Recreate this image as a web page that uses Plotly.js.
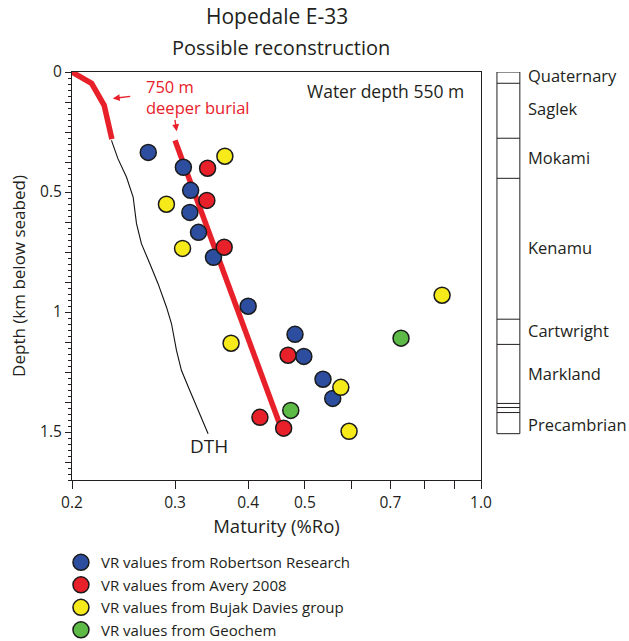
<!DOCTYPE html>
<html><head><meta charset="utf-8">
<script src="https://cdn.plot.ly/plotly-3.0.1.min.js"></script>
<style>html,body{margin:0;padding:0;background:#fff}#chart{width:629px;height:641px}</style>
</head><body><div id="chart"></div>
<script>
// Vitrinite reflectance data (maturity %Ro, depth km below seabed)
const robertsonRo    = [0.270, 0.310, 0.319, 0.318, 0.329, 0.349, 0.400, 0.481, 0.498, 0.537, 0.558];
const robertsonDepth = [0.335, 0.397, 0.493, 0.585, 0.668, 0.772, 0.976, 1.093, 1.185, 1.280, 1.360];
const averyRo    = [0.341, 0.340, 0.364, 0.468, 0.419, 0.460];
const averyDepth = [0.401, 0.535, 0.730, 1.180, 1.439, 1.484];
const bujakRo    = [0.365, 0.290, 0.309, 0.374, 0.576, 0.595, 0.858];
const bujakDepth = [0.351, 0.551, 0.735, 1.130, 1.314, 1.497, 0.930];
const geochemRo    = [0.473, 0.730];
const geochemDepth = [1.410, 1.109];
// Burial curves
const upperRo    = [0.200, 0.216, 0.227, 0.234];
const upperDepth = [0.000, 0.047, 0.139, 0.280];
const deeperRo    = [0.300, 0.460];
const deeperDepth = [0.285, 1.512];
const dthRo    = [0.2336, 0.2396, 0.2478, 0.2544, 0.2578, 0.2628, 0.2716, 0.2806, 0.2900, 0.2958, 0.3017, 0.3076, 0.3178, 0.3307, 0.3417];
const dthDepth = [0.285, 0.361, 0.4375, 0.521, 0.632, 0.715, 0.798, 0.882, 0.979, 1.048, 1.160, 1.243, 1.326, 1.423, 1.507];
// Axis ticks
const xTickVals = [0.2, 0.3, 0.4, 0.5, 0.6, 0.7, 0.8, 0.9, 1.0];
const xTickText = ['0.2', '0.3', '0.4', '0.5', '', '0.7', '', '', '1.0'];
// Stratigraphic column
const formationNames = ['Quaternary', 'Saglek', 'Mokami', 'Kenamu', 'Cartwright', 'Markland', 'Precambrian'];
const formationLabelDepth = [0.016, 0.152, 0.356, 0.73, 1.077, 1.255, 1.468];
const formationBoundaries = [0.047, 0.276, 0.443, 1.03, 1.135, 1.381, 1.398, 1.419];
const columnTop = 0.0, columnBase = 1.507;

const TXT = '#231f20';
const FONT = '"Open Sans", Lato, sans-serif';
const RED = '#e8202a';

function pts(name, x, y, color) {
  return {type: 'scatter', mode: 'markers', name: name, x: x, y: y,
    marker: {size: 16, color: color, line: {color: '#1a1a1a', width: 1.5}}, cliponaxis: false};
}

const yTickVals = [], yTickText = [];
for (let i = 0; i <= 13; i++) {
  const v = i * 0.125;
  yTickVals.push(v);
  yTickText.push(Math.abs(v % 0.5) < 1e-9 ? String(v) : '');
}

const traces = [
  {type: 'scatter', mode: 'lines', x: dthRo, y: dthDepth, line: {color: '#111', width: 1.1}, showlegend: false, hoverinfo: 'skip'},
  {type: 'scatter', mode: 'lines', x: upperRo, y: upperDepth, line: {color: RED, width: 5.5}, showlegend: false, hoverinfo: 'skip'},
  {type: 'scatter', mode: 'lines', x: deeperRo, y: deeperDepth, line: {color: RED, width: 5.5}, showlegend: false, hoverinfo: 'skip'},
  pts('VR values from Robertson Research', robertsonRo, robertsonDepth, '#2d4e9f'),
  pts('VR values from Avery 2008', averyRo, averyDepth, RED),
  pts('VR values from Bujak Davies group', bujakRo, bujakDepth, '#f7ea1a'),
  pts('VR values from Geochem', geochemRo, geochemDepth, '#5dba47')
];

const x0 = 1.039, x1 = 1.095;
const shapes = [{type: 'rect', xref: 'paper', yref: 'y', x0: x0, x1: x1, y0: columnTop, y1: columnBase,
  line: {color: TXT, width: 1}, fillcolor: 'rgba(0,0,0,0)'}];
formationBoundaries.forEach(d => shapes.push({type: 'line', xref: 'paper', yref: 'y', x0: x0, x1: x1, y0: d, y1: d,
  line: {color: TXT, width: 1}}));

const annotations = [
  {xref: 'paper', yref: 'paper', x: 0.5, y: 1.137, text: 'Hopedale E-33', showarrow: false,
    font: {family: FONT, size: 21, color: TXT}, xanchor: 'center', yanchor: 'middle'},
  {xref: 'paper', yref: 'paper', x: 0.51, y: 1.059, text: 'Possible reconstruction', showarrow: false,
    font: {family: FONT, size: 20, color: TXT}, xanchor: 'center', yanchor: 'middle'},
  {xref: 'x', yref: 'y', x: Math.log10(0.942), y: 0.081, text: 'Water depth 550 m', showarrow: false,
    font: {family: FONT, size: 17.5, color: TXT}, xanchor: 'right', yanchor: 'middle'},
  {xref: 'x', yref: 'y', x: Math.log10(0.266), y: 0.105, text: '750 m<br>deeper burial', showarrow: false, align: 'left',
    font: {family: FONT, size: 16.5, color: RED}, xanchor: 'left', yanchor: 'middle'},
  {xref: 'x', yref: 'y', x: Math.log10(0.2348), y: 0.11, ax: Math.log10(0.253), ay: 0.101, axref: 'x', ayref: 'y',
    text: '', showarrow: true, arrowhead: 2, arrowsize: 1, arrowwidth: 1.4, arrowcolor: RED},
  {xref: 'x', yref: 'y', x: Math.log10(0.302), y: 0.247, ax: Math.log10(0.2996), ay: 0.193, axref: 'x', ayref: 'y',
    text: '', showarrow: true, arrowhead: 2, arrowsize: 1, arrowwidth: 1.4, arrowcolor: RED},
  {xref: 'x', yref: 'y', x: Math.log10(0.3156), y: 1.56, text: 'DTH', showarrow: false,
    font: {family: FONT, size: 19, color: TXT}, xanchor: 'left', yanchor: 'middle'}
];
formationNames.forEach((n, i) => annotations.push({xref: 'paper', yref: 'y', x: 1.11, y: formationLabelDepth[i],
  text: n, showarrow: false, xanchor: 'left', yanchor: 'middle', font: {family: FONT, size: 16.5, color: TXT}}));

const layout = {
  width: 629, height: 641,
  margin: {l: 72, r: 148, t: 72, b: 161, autoexpand: false},
  paper_bgcolor: '#fff', plot_bgcolor: '#fff',
  font: {family: FONT, color: TXT},
  showlegend: true,
  legend: {x: -0.027, xanchor: 'left', y: -0.162, yanchor: 'top', font: {family: FONT, size: 15, color: TXT},
    bgcolor: 'rgba(0,0,0,0)', borderwidth: 0, tracegroupgap: 0},
  xaxis: {type: 'log', range: [Math.log10(0.2), Math.log10(1.0)], tickmode: 'array', tickvals: xTickVals, ticktext: xTickText,
    ticks: 'outside', ticklen: 8, tickwidth: 1, tickcolor: TXT, showline: true, linecolor: TXT, linewidth: 1, mirror: true,
    showgrid: false, zeroline: false, tickfont: {family: FONT, size: 15.5, color: TXT},
    title: {text: 'Maturity (%Ro)', font: {family: FONT, size: 18.5, color: TXT}, standoff: 6}},
  yaxis: {range: [1.7, 0], tickmode: 'array', tickvals: yTickVals, ticktext: yTickText,
    ticks: 'outside', ticklen: 6, tickwidth: 1, tickcolor: TXT, showline: true, linecolor: TXT, linewidth: 1, mirror: true,
    showgrid: false, zeroline: false, tickfont: {family: FONT, size: 15.5, color: TXT},
    minor: {tickmode: 'linear', tick0: 0, dtick: 0.025, ticklen: 3, tickcolor: TXT, ticks: 'outside', showgrid: false},
    title: {text: 'Depth (km below seabed)', font: {family: FONT, size: 17, color: TXT}, standoff: 10}},
  shapes: shapes,
  annotations: annotations
};

Plotly.newPlot('chart', traces, layout, {displayModeBar: false, staticPlot: true});
</script></body></html>
